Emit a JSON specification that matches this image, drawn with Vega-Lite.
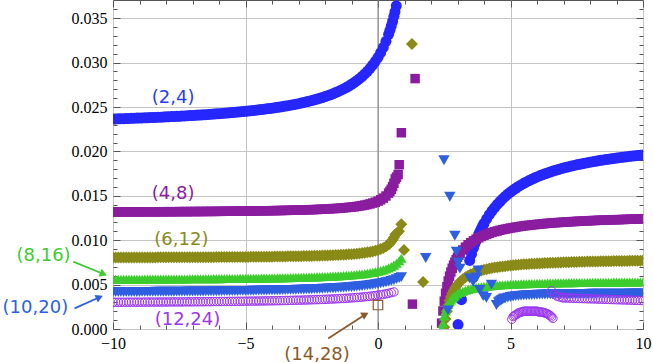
{
"$schema": "https://vega.github.io/schema/vega-lite/v6.json",
"width": 530, "height": 329,
"autosize": {"type": "none"},
"padding": {"left": 113, "top": 0, "right": 10, "bottom": 34},
"background": "white",
"config": {"view": {"stroke": "#555", "strokeWidth": 1}},
"resolve": {"axis": {"x": "independent", "y": "independent"}},
"datasets": {
"pts": [
{"s":"A","x":-10,"y":0.02365},{"s":"A","x":-9.9,"y":0.02366},{"s":"A","x":-9.8,"y":0.02367},{"s":"A","x":-9.7,"y":0.02368},{"s":"A","x":-9.6,"y":0.02369},{"s":"A","x":-9.5,"y":0.0237},{"s":"A","x":-9.4,"y":0.02371},{"s":"A","x":-9.3,"y":0.02372},{"s":"A","x":-9.2,"y":0.02374},{"s":"A","x":-9.1,"y":0.02375},{"s":"A","x":-9,"y":0.02376},{"s":"A","x":-8.9,"y":0.02377},{"s":"A","x":-8.8,"y":0.02378},{"s":"A","x":-8.7,"y":0.02379},{"s":"A","x":-8.6,"y":0.02381},{"s":"A","x":-8.5,"y":0.02382},{"s":"A","x":-8.4,"y":0.02383},{"s":"A","x":-8.3,"y":0.02385},{"s":"A","x":-8.2,"y":0.02386},{"s":"A","x":-8.1,"y":0.02387},{"s":"A","x":-8,"y":0.02389},{"s":"A","x":-7.9,"y":0.0239},{"s":"A","x":-7.8,"y":0.02392},{"s":"A","x":-7.7,"y":0.02393},{"s":"A","x":-7.6,"y":0.02395},{"s":"A","x":-7.5,"y":0.02396},{"s":"A","x":-7.4,"y":0.02398},{"s":"A","x":-7.3,"y":0.024},{"s":"A","x":-7.2,"y":0.02401},{"s":"A","x":-7.1,"y":0.02403},{"s":"A","x":-7,"y":0.02405},{"s":"A","x":-6.9,"y":0.02407},{"s":"A","x":-6.8,"y":0.02409},{"s":"A","x":-6.7,"y":0.0241},{"s":"A","x":-6.6,"y":0.02412},{"s":"A","x":-6.5,"y":0.02414},{"s":"A","x":-6.4,"y":0.02416},{"s":"A","x":-6.3,"y":0.02419},{"s":"A","x":-6.2,"y":0.02421},{"s":"A","x":-6.1,"y":0.02423},{"s":"A","x":-6,"y":0.02425},{"s":"A","x":-5.9,"y":0.02427},{"s":"A","x":-5.8,"y":0.0243},{"s":"A","x":-5.7,"y":0.02432},{"s":"A","x":-5.6,"y":0.02435},{"s":"A","x":-5.5,"y":0.02437},{"s":"A","x":-5.4,"y":0.0244},{"s":"A","x":-5.3,"y":0.02443},{"s":"A","x":-5.2,"y":0.02446},{"s":"A","x":-5.1,"y":0.02448},{"s":"A","x":-5,"y":0.02451},{"s":"A","x":-4.9,"y":0.02454},{"s":"A","x":-4.8,"y":0.02458},{"s":"A","x":-4.7,"y":0.02461},{"s":"A","x":-4.6,"y":0.02464},{"s":"A","x":-4.5,"y":0.02468},{"s":"A","x":-4.4,"y":0.02471},{"s":"A","x":-4.3,"y":0.02475},{"s":"A","x":-4.2,"y":0.02479},{"s":"A","x":-4.1,"y":0.02483},{"s":"A","x":-4,"y":0.02487},{"s":"A","x":-3.9,"y":0.02491},{"s":"A","x":-3.8,"y":0.02496},{"s":"A","x":-3.7,"y":0.025},{"s":"A","x":-3.6,"y":0.02505},{"s":"A","x":-3.5,"y":0.0251},{"s":"A","x":-3.4,"y":0.02515},{"s":"A","x":-3.3,"y":0.0252},{"s":"A","x":-3.2,"y":0.02526},{"s":"A","x":-3.1,"y":0.02532},{"s":"A","x":-3,"y":0.02538},{"s":"A","x":-2.9,"y":0.02544},{"s":"A","x":-2.8,"y":0.02551},{"s":"A","x":-2.7,"y":0.02558},{"s":"A","x":-2.6,"y":0.02565},{"s":"A","x":-2.5,"y":0.02573},{"s":"A","x":-2.4,"y":0.02581},{"s":"A","x":-2.3,"y":0.02589},{"s":"A","x":-2.2,"y":0.02598},{"s":"A","x":-2.1,"y":0.02607},{"s":"A","x":-2,"y":0.02617},{"s":"A","x":-1.9,"y":0.02627},{"s":"A","x":-1.8,"y":0.02638},{"s":"A","x":-1.7,"y":0.02649},{"s":"A","x":-1.6,"y":0.02662},{"s":"A","x":-1.5,"y":0.02675},{"s":"A","x":-1.4,"y":0.02689},{"s":"A","x":-1.3,"y":0.02704},{"s":"A","x":-1.2,"y":0.02719},{"s":"A","x":-1.1,"y":0.02736},{"s":"A","x":-1,"y":0.02755},{"s":"A","x":-0.9,"y":0.02775},{"s":"A","x":-0.8,"y":0.02796},{"s":"A","x":-0.7,"y":0.02819},{"s":"A","x":-0.6,"y":0.02844},{"s":"A","x":-0.5,"y":0.02872},{"s":"A","x":-0.4,"y":0.02902},{"s":"A","x":-0.3,"y":0.02936},{"s":"A","x":-0.2,"y":0.02973},{"s":"A","x":-0.1,"y":0.03014},{"s":"A","x":0,"y":0.0306},{"s":"A","x":0.1,"y":0.03112},{"s":"A","x":0.2,"y":0.03171},{"s":"A","x":0.3,"y":0.0324},{"s":"A","x":0.4,"y":0.03318},{"s":"A","x":0.45,"y":0.03363},{"s":"A","x":0.5,"y":0.03411},{"s":"A","x":0.55,"y":0.03464},{"s":"A","x":0.6,"y":0.03521},{"s":"A","x":0.64,"y":0.03571},{"s":"A","x":0.69,"y":0.0364},
{"s":"A","x":3.02,"y":0.0005},{"s":"A","x":3.15,"y":0.0033},{"s":"A","x":3.46,"y":0.00772},{"s":"A","x":3.53,"y":0.00844},{"s":"A","x":3.6,"y":0.0091},{"s":"A","x":3.65,"y":0.00953},{"s":"A","x":3.7,"y":0.00993},{"s":"A","x":3.75,"y":0.0103},{"s":"A","x":3.8,"y":0.01066},{"s":"A","x":3.85,"y":0.01099},{"s":"A","x":3.9,"y":0.0113},{"s":"A","x":3.95,"y":0.0116},{"s":"A","x":4,"y":0.01188},{"s":"A","x":4.1,"y":0.0124},{"s":"A","x":4.2,"y":0.01287},{"s":"A","x":4.3,"y":0.01329},{"s":"A","x":4.4,"y":0.01368},{"s":"A","x":4.5,"y":0.01403},{"s":"A","x":4.6,"y":0.01435},{"s":"A","x":4.7,"y":0.01465},{"s":"A","x":4.8,"y":0.01493},{"s":"A","x":4.9,"y":0.01519},{"s":"A","x":5,"y":0.01542},{"s":"A","x":5.1,"y":0.01565},{"s":"A","x":5.2,"y":0.01585},{"s":"A","x":5.3,"y":0.01605},{"s":"A","x":5.4,"y":0.01623},{"s":"A","x":5.5,"y":0.0164},{"s":"A","x":5.6,"y":0.01656},{"s":"A","x":5.7,"y":0.01672},{"s":"A","x":5.8,"y":0.01686},{"s":"A","x":5.9,"y":0.017},{"s":"A","x":6,"y":0.01713},{"s":"A","x":6.1,"y":0.01725},{"s":"A","x":6.2,"y":0.01737},{"s":"A","x":6.3,"y":0.01748},{"s":"A","x":6.4,"y":0.01758},{"s":"A","x":6.5,"y":0.01768},{"s":"A","x":6.6,"y":0.01778},{"s":"A","x":6.7,"y":0.01787},{"s":"A","x":6.8,"y":0.01796},{"s":"A","x":6.9,"y":0.01805},{"s":"A","x":7,"y":0.01813},{"s":"A","x":7.1,"y":0.01821},{"s":"A","x":7.2,"y":0.01828},{"s":"A","x":7.3,"y":0.01835},{"s":"A","x":7.4,"y":0.01842},{"s":"A","x":7.5,"y":0.01849},{"s":"A","x":7.6,"y":0.01855},{"s":"A","x":7.7,"y":0.01861},{"s":"A","x":7.8,"y":0.01867},{"s":"A","x":7.9,"y":0.01873},{"s":"A","x":8,"y":0.01879},{"s":"A","x":8.1,"y":0.01884},{"s":"A","x":8.2,"y":0.01889},{"s":"A","x":8.3,"y":0.01894},{"s":"A","x":8.4,"y":0.01899},{"s":"A","x":8.5,"y":0.01904},{"s":"A","x":8.6,"y":0.01908},{"s":"A","x":8.7,"y":0.01913},{"s":"A","x":8.8,"y":0.01917},{"s":"A","x":8.9,"y":0.01921},{"s":"A","x":9,"y":0.01925},{"s":"A","x":9.1,"y":0.01929},{"s":"A","x":9.2,"y":0.01933},{"s":"A","x":9.3,"y":0.01937},{"s":"A","x":9.4,"y":0.0194},{"s":"A","x":9.5,"y":0.01944},{"s":"A","x":9.6,"y":0.01947},{"s":"A","x":9.7,"y":0.01951},{"s":"A","x":9.8,"y":0.01954},{"s":"A","x":9.9,"y":0.01957},{"s":"A","x":10,"y":0.0196},

{"s":"B","x":-10,"y":0.01318},{"s":"B","x":-9.9,"y":0.01318},{"s":"B","x":-9.8,"y":0.01318},{"s":"B","x":-9.7,"y":0.01318},{"s":"B","x":-9.6,"y":0.01319},{"s":"B","x":-9.5,"y":0.01319},{"s":"B","x":-9.4,"y":0.01319},{"s":"B","x":-9.3,"y":0.01319},{"s":"B","x":-9.2,"y":0.01319},{"s":"B","x":-9.1,"y":0.01319},{"s":"B","x":-9,"y":0.01319},{"s":"B","x":-8.9,"y":0.01319},{"s":"B","x":-8.8,"y":0.0132},{"s":"B","x":-8.7,"y":0.0132},{"s":"B","x":-8.6,"y":0.0132},{"s":"B","x":-8.5,"y":0.0132},{"s":"B","x":-8.4,"y":0.0132},{"s":"B","x":-8.3,"y":0.0132},{"s":"B","x":-8.2,"y":0.0132},{"s":"B","x":-8.1,"y":0.01321},{"s":"B","x":-8,"y":0.01321},{"s":"B","x":-7.9,"y":0.01321},{"s":"B","x":-7.8,"y":0.01321},{"s":"B","x":-7.7,"y":0.01321},{"s":"B","x":-7.6,"y":0.01321},{"s":"B","x":-7.5,"y":0.01322},{"s":"B","x":-7.4,"y":0.01322},{"s":"B","x":-7.3,"y":0.01322},{"s":"B","x":-7.2,"y":0.01322},{"s":"B","x":-7.1,"y":0.01322},{"s":"B","x":-7,"y":0.01323},{"s":"B","x":-6.9,"y":0.01323},{"s":"B","x":-6.8,"y":0.01323},{"s":"B","x":-6.7,"y":0.01323},{"s":"B","x":-6.6,"y":0.01323},{"s":"B","x":-6.5,"y":0.01324},{"s":"B","x":-6.4,"y":0.01324},{"s":"B","x":-6.3,"y":0.01324},{"s":"B","x":-6.2,"y":0.01324},{"s":"B","x":-6.1,"y":0.01325},{"s":"B","x":-6,"y":0.01325},{"s":"B","x":-5.9,"y":0.01325},{"s":"B","x":-5.8,"y":0.01326},{"s":"B","x":-5.7,"y":0.01326},{"s":"B","x":-5.6,"y":0.01326},{"s":"B","x":-5.5,"y":0.01326},{"s":"B","x":-5.4,"y":0.01327},{"s":"B","x":-5.3,"y":0.01327},{"s":"B","x":-5.2,"y":0.01327},{"s":"B","x":-5.1,"y":0.01328},{"s":"B","x":-5,"y":0.01328},{"s":"B","x":-4.9,"y":0.01329},{"s":"B","x":-4.8,"y":0.01329},{"s":"B","x":-4.7,"y":0.01329},{"s":"B","x":-4.6,"y":0.0133},{"s":"B","x":-4.5,"y":0.0133},{"s":"B","x":-4.4,"y":0.01331},{"s":"B","x":-4.3,"y":0.01331},{"s":"B","x":-4.2,"y":0.01332},{"s":"B","x":-4.1,"y":0.01332},{"s":"B","x":-4,"y":0.01333},{"s":"B","x":-3.9,"y":0.01333},{"s":"B","x":-3.8,"y":0.01334},{"s":"B","x":-3.7,"y":0.01334},{"s":"B","x":-3.6,"y":0.01335},{"s":"B","x":-3.5,"y":0.01336},{"s":"B","x":-3.4,"y":0.01336},{"s":"B","x":-3.3,"y":0.01337},{"s":"B","x":-3.2,"y":0.01338},{"s":"B","x":-3.1,"y":0.01339},{"s":"B","x":-3,"y":0.01339},{"s":"B","x":-2.9,"y":0.0134},{"s":"B","x":-2.8,"y":0.01341},{"s":"B","x":-2.7,"y":0.01342},{"s":"B","x":-2.6,"y":0.01343},{"s":"B","x":-2.5,"y":0.01344},{"s":"B","x":-2.4,"y":0.01345},{"s":"B","x":-2.3,"y":0.01346},{"s":"B","x":-2.2,"y":0.01348},{"s":"B","x":-2.1,"y":0.01349},{"s":"B","x":-2,"y":0.01351},{"s":"B","x":-1.9,"y":0.01352},{"s":"B","x":-1.8,"y":0.01354},{"s":"B","x":-1.7,"y":0.01356},{"s":"B","x":-1.6,"y":0.01357},{"s":"B","x":-1.5,"y":0.01359},{"s":"B","x":-1.4,"y":0.01362},{"s":"B","x":-1.3,"y":0.01364},{"s":"B","x":-1.2,"y":0.01367},{"s":"B","x":-1.1,"y":0.0137},{"s":"B","x":-1,"y":0.01373},{"s":"B","x":-0.9,"y":0.01376},{"s":"B","x":-0.8,"y":0.0138},{"s":"B","x":-0.7,"y":0.01385},{"s":"B","x":-0.6,"y":0.0139},{"s":"B","x":-0.5,"y":0.01395},{"s":"B","x":-0.4,"y":0.01402},{"s":"B","x":-0.3,"y":0.01409},{"s":"B","x":-0.2,"y":0.01418},{"s":"B","x":-0.1,"y":0.01428},{"s":"B","x":0,"y":0.0144},{"s":"B","x":0.1,"y":0.01455},{"s":"B","x":0.2,"y":0.01474},{"s":"B","x":0.3,"y":0.01498},{"s":"B","x":0.4,"y":0.0153},{"s":"B","x":0.45,"y":0.0155},{"s":"B","x":0.5,"y":0.01574},{"s":"B","x":0.55,"y":0.01604},{"s":"B","x":0.6,"y":0.01641},{"s":"B","x":0.65,"y":0.01689},{"s":"B","x":0.7,"y":0.0171},{"s":"B","x":0.76,"y":0.0174},{"s":"B","x":0.8,"y":0.0185},{"s":"B","x":0.88,"y":0.0221},
{"s":"B","x":1.3,"y":0.0028},{"s":"B","x":1.4,"y":0.0282},
{"s":"B","x":2.4,"y":0.00066},{"s":"B","x":2.45,"y":0.00203},{"s":"B","x":2.5,"y":0.00313},{"s":"B","x":2.55,"y":0.00403},{"s":"B","x":2.6,"y":0.00478},{"s":"B","x":2.65,"y":0.00541},{"s":"B","x":2.7,"y":0.00595},{"s":"B","x":2.75,"y":0.00642},{"s":"B","x":2.8,"y":0.00684},{"s":"B","x":2.85,"y":0.0072},{"s":"B","x":2.9,"y":0.00752},{"s":"B","x":2.95,"y":0.00781},{"s":"B","x":3,"y":0.00807},{"s":"B","x":3.05,"y":0.0083},{"s":"B","x":3.1,"y":0.00852},{"s":"B","x":3.2,"y":0.0089},{"s":"B","x":3.3,"y":0.00922},{"s":"B","x":3.4,"y":0.00949},{"s":"B","x":3.5,"y":0.00972},{"s":"B","x":3.6,"y":0.00993},{"s":"B","x":3.7,"y":0.01011},{"s":"B","x":3.8,"y":0.01027},{"s":"B","x":3.9,"y":0.01042},{"s":"B","x":4,"y":0.01055},{"s":"B","x":4.1,"y":0.01066},{"s":"B","x":4.2,"y":0.01077},{"s":"B","x":4.3,"y":0.01087},{"s":"B","x":4.4,"y":0.01096},{"s":"B","x":4.5,"y":0.01104},{"s":"B","x":4.6,"y":0.01112},{"s":"B","x":4.7,"y":0.01119},{"s":"B","x":4.8,"y":0.01125},{"s":"B","x":4.9,"y":0.01131},{"s":"B","x":5,"y":0.01137},{"s":"B","x":5.1,"y":0.01142},{"s":"B","x":5.2,"y":0.01147},{"s":"B","x":5.3,"y":0.01152},{"s":"B","x":5.4,"y":0.01157},{"s":"B","x":5.5,"y":0.01161},{"s":"B","x":5.6,"y":0.01165},{"s":"B","x":5.7,"y":0.01168},{"s":"B","x":5.8,"y":0.01172},{"s":"B","x":5.9,"y":0.01175},{"s":"B","x":6,"y":0.01178},{"s":"B","x":6.1,"y":0.01181},{"s":"B","x":6.2,"y":0.01184},{"s":"B","x":6.3,"y":0.01187},{"s":"B","x":6.4,"y":0.0119},{"s":"B","x":6.5,"y":0.01192},{"s":"B","x":6.6,"y":0.01195},{"s":"B","x":6.7,"y":0.01197},{"s":"B","x":6.8,"y":0.01199},{"s":"B","x":6.9,"y":0.01201},{"s":"B","x":7,"y":0.01203},{"s":"B","x":7.1,"y":0.01205},{"s":"B","x":7.2,"y":0.01207},{"s":"B","x":7.3,"y":0.01209},{"s":"B","x":7.4,"y":0.0121},{"s":"B","x":7.5,"y":0.01212},{"s":"B","x":7.6,"y":0.01214},{"s":"B","x":7.7,"y":0.01215},{"s":"B","x":7.8,"y":0.01217},{"s":"B","x":7.9,"y":0.01218},{"s":"B","x":8,"y":0.0122},{"s":"B","x":8.1,"y":0.01221},{"s":"B","x":8.2,"y":0.01222},{"s":"B","x":8.3,"y":0.01224},{"s":"B","x":8.4,"y":0.01225},{"s":"B","x":8.5,"y":0.01226},{"s":"B","x":8.6,"y":0.01227},{"s":"B","x":8.7,"y":0.01228},{"s":"B","x":8.8,"y":0.01229},{"s":"B","x":8.9,"y":0.0123},{"s":"B","x":9,"y":0.01231},{"s":"B","x":9.1,"y":0.01232},{"s":"B","x":9.2,"y":0.01233},{"s":"B","x":9.3,"y":0.01234},{"s":"B","x":9.4,"y":0.01235},{"s":"B","x":9.5,"y":0.01236},{"s":"B","x":9.6,"y":0.01237},{"s":"B","x":9.7,"y":0.01238},{"s":"B","x":9.8,"y":0.01239},{"s":"B","x":9.9,"y":0.01239},{"s":"B","x":10,"y":0.0124},

{"s":"C","x":-10,"y":0.00805},{"s":"C","x":-9.9,"y":0.00805},{"s":"C","x":-9.8,"y":0.00805},{"s":"C","x":-9.7,"y":0.00805},{"s":"C","x":-9.6,"y":0.00805},{"s":"C","x":-9.5,"y":0.00805},{"s":"C","x":-9.4,"y":0.00805},{"s":"C","x":-9.3,"y":0.00806},{"s":"C","x":-9.2,"y":0.00806},{"s":"C","x":-9.1,"y":0.00806},{"s":"C","x":-9,"y":0.00806},{"s":"C","x":-8.9,"y":0.00806},{"s":"C","x":-8.8,"y":0.00806},{"s":"C","x":-8.7,"y":0.00806},{"s":"C","x":-8.6,"y":0.00806},{"s":"C","x":-8.5,"y":0.00806},{"s":"C","x":-8.4,"y":0.00806},{"s":"C","x":-8.3,"y":0.00807},{"s":"C","x":-8.2,"y":0.00807},{"s":"C","x":-8.1,"y":0.00807},{"s":"C","x":-8,"y":0.00807},{"s":"C","x":-7.9,"y":0.00807},{"s":"C","x":-7.8,"y":0.00807},{"s":"C","x":-7.7,"y":0.00807},{"s":"C","x":-7.6,"y":0.00807},{"s":"C","x":-7.5,"y":0.00808},{"s":"C","x":-7.4,"y":0.00808},{"s":"C","x":-7.3,"y":0.00808},{"s":"C","x":-7.2,"y":0.00808},{"s":"C","x":-7.1,"y":0.00808},{"s":"C","x":-7,"y":0.00808},{"s":"C","x":-6.9,"y":0.00808},{"s":"C","x":-6.8,"y":0.00808},{"s":"C","x":-6.7,"y":0.00809},{"s":"C","x":-6.6,"y":0.00809},{"s":"C","x":-6.5,"y":0.00809},{"s":"C","x":-6.4,"y":0.00809},{"s":"C","x":-6.3,"y":0.00809},{"s":"C","x":-6.2,"y":0.00809},{"s":"C","x":-6.1,"y":0.0081},{"s":"C","x":-6,"y":0.0081},{"s":"C","x":-5.9,"y":0.0081},{"s":"C","x":-5.8,"y":0.0081},{"s":"C","x":-5.7,"y":0.0081},{"s":"C","x":-5.6,"y":0.00811},{"s":"C","x":-5.5,"y":0.00811},{"s":"C","x":-5.4,"y":0.00811},{"s":"C","x":-5.3,"y":0.00811},{"s":"C","x":-5.2,"y":0.00812},{"s":"C","x":-5.1,"y":0.00812},{"s":"C","x":-5,"y":0.00812},{"s":"C","x":-4.9,"y":0.00812},{"s":"C","x":-4.8,"y":0.00813},{"s":"C","x":-4.7,"y":0.00813},{"s":"C","x":-4.6,"y":0.00813},{"s":"C","x":-4.5,"y":0.00814},{"s":"C","x":-4.4,"y":0.00814},{"s":"C","x":-4.3,"y":0.00814},{"s":"C","x":-4.2,"y":0.00815},{"s":"C","x":-4.1,"y":0.00815},{"s":"C","x":-4,"y":0.00815},{"s":"C","x":-3.9,"y":0.00816},{"s":"C","x":-3.8,"y":0.00816},{"s":"C","x":-3.7,"y":0.00816},{"s":"C","x":-3.6,"y":0.00817},{"s":"C","x":-3.5,"y":0.00817},{"s":"C","x":-3.4,"y":0.00818},{"s":"C","x":-3.3,"y":0.00818},{"s":"C","x":-3.2,"y":0.00819},{"s":"C","x":-3.1,"y":0.00819},{"s":"C","x":-3,"y":0.0082},{"s":"C","x":-2.9,"y":0.0082},{"s":"C","x":-2.8,"y":0.00821},{"s":"C","x":-2.7,"y":0.00822},{"s":"C","x":-2.6,"y":0.00823},{"s":"C","x":-2.5,"y":0.00823},{"s":"C","x":-2.4,"y":0.00824},{"s":"C","x":-2.3,"y":0.00825},{"s":"C","x":-2.2,"y":0.00826},{"s":"C","x":-2.1,"y":0.00827},{"s":"C","x":-2,"y":0.00828},{"s":"C","x":-1.9,"y":0.00829},{"s":"C","x":-1.8,"y":0.0083},{"s":"C","x":-1.7,"y":0.00831},{"s":"C","x":-1.6,"y":0.00832},{"s":"C","x":-1.5,"y":0.00834},{"s":"C","x":-1.4,"y":0.00835},{"s":"C","x":-1.3,"y":0.00837},{"s":"C","x":-1.2,"y":0.00839},{"s":"C","x":-1.1,"y":0.00841},{"s":"C","x":-1,"y":0.00843},{"s":"C","x":-0.9,"y":0.00846},{"s":"C","x":-0.8,"y":0.00848},{"s":"C","x":-0.7,"y":0.00851},{"s":"C","x":-0.6,"y":0.00855},{"s":"C","x":-0.5,"y":0.00859},{"s":"C","x":-0.4,"y":0.00863},{"s":"C","x":-0.3,"y":0.00868},{"s":"C","x":-0.2,"y":0.00874},{"s":"C","x":-0.1,"y":0.00882},{"s":"C","x":0,"y":0.0089},{"s":"C","x":0.1,"y":0.009},{"s":"C","x":0.2,"y":0.00913},{"s":"C","x":0.3,"y":0.0093},{"s":"C","x":0.4,"y":0.00952},{"s":"C","x":0.45,"y":0.00966},{"s":"C","x":0.5,"y":0.00984},{"s":"C","x":0.55,"y":0.01004},{"s":"C","x":0.6,"y":0.0103},{"s":"C","x":0.65,"y":0.01064},{"s":"C","x":0.72,"y":0.0108},{"s":"C","x":0.79,"y":0.011},{"s":"C","x":0.88,"y":0.0118},
{"s":"C","x":0.98,"y":0.0089},{"s":"C","x":1.28,"y":0.0321},{"s":"C","x":1.7,"y":0.0053},
{"s":"C","x":2.5,"y":0.0002},{"s":"C","x":2.55,"y":0.00114},{"s":"C","x":2.6,"y":0.002},{"s":"C","x":2.65,"y":0.00267},{"s":"C","x":2.7,"y":0.0032},{"s":"C","x":2.75,"y":0.00364},{"s":"C","x":2.8,"y":0.004},{"s":"C","x":2.85,"y":0.00431},{"s":"C","x":2.9,"y":0.00458},{"s":"C","x":2.95,"y":0.0048},{"s":"C","x":3,"y":0.005},{"s":"C","x":3.1,"y":0.00534},{"s":"C","x":3.2,"y":0.00561},{"s":"C","x":3.3,"y":0.00582},{"s":"C","x":3.4,"y":0.00601},{"s":"C","x":3.5,"y":0.00616},{"s":"C","x":3.6,"y":0.00629},{"s":"C","x":3.7,"y":0.00641},{"s":"C","x":3.8,"y":0.00651},{"s":"C","x":3.9,"y":0.00659},{"s":"C","x":4,"y":0.00667},{"s":"C","x":4.1,"y":0.00674},{"s":"C","x":4.2,"y":0.00681},{"s":"C","x":4.3,"y":0.00686},{"s":"C","x":4.4,"y":0.00692},{"s":"C","x":4.5,"y":0.00696},{"s":"C","x":4.6,"y":0.00701},{"s":"C","x":4.7,"y":0.00705},{"s":"C","x":4.8,"y":0.00708},{"s":"C","x":4.9,"y":0.00712},{"s":"C","x":5,"y":0.00715},{"s":"C","x":5.1,"y":0.00718},{"s":"C","x":5.2,"y":0.00721},{"s":"C","x":5.3,"y":0.00723},{"s":"C","x":5.4,"y":0.00726},{"s":"C","x":5.5,"y":0.00728},{"s":"C","x":5.6,"y":0.0073},{"s":"C","x":5.7,"y":0.00732},{"s":"C","x":5.8,"y":0.00734},{"s":"C","x":5.9,"y":0.00736},{"s":"C","x":6,"y":0.00738},{"s":"C","x":6.1,"y":0.00739},{"s":"C","x":6.2,"y":0.00741},{"s":"C","x":6.3,"y":0.00742},{"s":"C","x":6.4,"y":0.00744},{"s":"C","x":6.5,"y":0.00745},{"s":"C","x":6.6,"y":0.00746},{"s":"C","x":6.7,"y":0.00747},{"s":"C","x":6.8,"y":0.00749},{"s":"C","x":6.9,"y":0.0075},{"s":"C","x":7,"y":0.00751},{"s":"C","x":7.1,"y":0.00752},{"s":"C","x":7.2,"y":0.00753},{"s":"C","x":7.3,"y":0.00754},{"s":"C","x":7.4,"y":0.00755},{"s":"C","x":7.5,"y":0.00755},{"s":"C","x":7.6,"y":0.00756},{"s":"C","x":7.7,"y":0.00757},{"s":"C","x":7.8,"y":0.00758},{"s":"C","x":7.9,"y":0.00759},{"s":"C","x":8,"y":0.00759},{"s":"C","x":8.1,"y":0.0076},{"s":"C","x":8.2,"y":0.00761},{"s":"C","x":8.3,"y":0.00761},{"s":"C","x":8.4,"y":0.00762},{"s":"C","x":8.5,"y":0.00763},{"s":"C","x":8.6,"y":0.00763},{"s":"C","x":8.7,"y":0.00764},{"s":"C","x":8.8,"y":0.00764},{"s":"C","x":8.9,"y":0.00765},{"s":"C","x":9,"y":0.00765},{"s":"C","x":9.1,"y":0.00766},{"s":"C","x":9.2,"y":0.00766},{"s":"C","x":9.3,"y":0.00767},{"s":"C","x":9.4,"y":0.00767},{"s":"C","x":9.5,"y":0.00768},{"s":"C","x":9.6,"y":0.00768},{"s":"C","x":9.7,"y":0.00769},{"s":"C","x":9.8,"y":0.00769},{"s":"C","x":9.9,"y":0.00769},{"s":"C","x":10,"y":0.0077},

{"s":"D","x":-10,"y":0.0056},{"s":"D","x":-9.9,"y":0.0056},{"s":"D","x":-9.8,"y":0.0056},{"s":"D","x":-9.7,"y":0.0056},{"s":"D","x":-9.6,"y":0.00561},{"s":"D","x":-9.5,"y":0.00561},{"s":"D","x":-9.4,"y":0.00561},{"s":"D","x":-9.3,"y":0.00561},{"s":"D","x":-9.2,"y":0.00561},{"s":"D","x":-9.1,"y":0.00561},{"s":"D","x":-9,"y":0.00561},{"s":"D","x":-8.9,"y":0.00561},{"s":"D","x":-8.8,"y":0.00562},{"s":"D","x":-8.7,"y":0.00562},{"s":"D","x":-8.6,"y":0.00562},{"s":"D","x":-8.5,"y":0.00562},{"s":"D","x":-8.4,"y":0.00562},{"s":"D","x":-8.3,"y":0.00562},{"s":"D","x":-8.2,"y":0.00563},{"s":"D","x":-8.1,"y":0.00563},{"s":"D","x":-8,"y":0.00563},{"s":"D","x":-7.9,"y":0.00563},{"s":"D","x":-7.8,"y":0.00563},{"s":"D","x":-7.7,"y":0.00563},{"s":"D","x":-7.6,"y":0.00564},{"s":"D","x":-7.5,"y":0.00564},{"s":"D","x":-7.4,"y":0.00564},{"s":"D","x":-7.3,"y":0.00564},{"s":"D","x":-7.2,"y":0.00564},{"s":"D","x":-7.1,"y":0.00565},{"s":"D","x":-7,"y":0.00565},{"s":"D","x":-6.9,"y":0.00565},{"s":"D","x":-6.8,"y":0.00565},{"s":"D","x":-6.7,"y":0.00565},{"s":"D","x":-6.6,"y":0.00566},{"s":"D","x":-6.5,"y":0.00566},{"s":"D","x":-6.4,"y":0.00566},{"s":"D","x":-6.3,"y":0.00566},{"s":"D","x":-6.2,"y":0.00567},{"s":"D","x":-6.1,"y":0.00567},{"s":"D","x":-6,"y":0.00567},{"s":"D","x":-5.9,"y":0.00567},{"s":"D","x":-5.8,"y":0.00568},{"s":"D","x":-5.7,"y":0.00568},{"s":"D","x":-5.6,"y":0.00568},{"s":"D","x":-5.5,"y":0.00569},{"s":"D","x":-5.4,"y":0.00569},{"s":"D","x":-5.3,"y":0.00569},{"s":"D","x":-5.2,"y":0.0057},{"s":"D","x":-5.1,"y":0.0057},{"s":"D","x":-5,"y":0.0057},{"s":"D","x":-4.9,"y":0.00571},{"s":"D","x":-4.8,"y":0.00571},{"s":"D","x":-4.7,"y":0.00572},{"s":"D","x":-4.6,"y":0.00572},{"s":"D","x":-4.5,"y":0.00572},{"s":"D","x":-4.4,"y":0.00573},{"s":"D","x":-4.3,"y":0.00573},{"s":"D","x":-4.2,"y":0.00574},{"s":"D","x":-4.1,"y":0.00574},{"s":"D","x":-4,"y":0.00575},{"s":"D","x":-3.9,"y":0.00575},{"s":"D","x":-3.8,"y":0.00576},{"s":"D","x":-3.7,"y":0.00576},{"s":"D","x":-3.6,"y":0.00577},{"s":"D","x":-3.5,"y":0.00578},{"s":"D","x":-3.4,"y":0.00578},{"s":"D","x":-3.3,"y":0.00579},{"s":"D","x":-3.2,"y":0.0058},{"s":"D","x":-3.1,"y":0.0058},{"s":"D","x":-3,"y":0.00581},{"s":"D","x":-2.9,"y":0.00582},{"s":"D","x":-2.8,"y":0.00583},{"s":"D","x":-2.7,"y":0.00583},{"s":"D","x":-2.6,"y":0.00584},{"s":"D","x":-2.5,"y":0.00585},{"s":"D","x":-2.4,"y":0.00586},{"s":"D","x":-2.3,"y":0.00587},{"s":"D","x":-2.2,"y":0.00588},{"s":"D","x":-2.1,"y":0.0059},{"s":"D","x":-2,"y":0.00591},{"s":"D","x":-1.9,"y":0.00592},{"s":"D","x":-1.8,"y":0.00594},{"s":"D","x":-1.7,"y":0.00595},{"s":"D","x":-1.6,"y":0.00597},{"s":"D","x":-1.5,"y":0.00598},{"s":"D","x":-1.4,"y":0.006},{"s":"D","x":-1.3,"y":0.00602},{"s":"D","x":-1.2,"y":0.00604},{"s":"D","x":-1.1,"y":0.00606},{"s":"D","x":-1,"y":0.00609},{"s":"D","x":-0.9,"y":0.00611},{"s":"D","x":-0.8,"y":0.00614},{"s":"D","x":-0.7,"y":0.00617},{"s":"D","x":-0.6,"y":0.0062},{"s":"D","x":-0.5,"y":0.00624},{"s":"D","x":-0.4,"y":0.00628},{"s":"D","x":-0.3,"y":0.00633},{"s":"D","x":-0.2,"y":0.00638},{"s":"D","x":-0.1,"y":0.00644},{"s":"D","x":0,"y":0.0065},{"s":"D","x":0.1,"y":0.00657},{"s":"D","x":0.2,"y":0.00666},{"s":"D","x":0.3,"y":0.00676},{"s":"D","x":0.4,"y":0.00688},{"s":"D","x":0.5,"y":0.00702},{"s":"D","x":0.6,"y":0.00719},{"s":"D","x":0.7,"y":0.00741},{"s":"D","x":0.8,"y":0.00768},{"s":"D","x":0.88,"y":0.00797},
{"s":"D","x":2.42,"y":0.0001},{"s":"D","x":2.45,"y":0.00066},{"s":"D","x":2.5,"y":0.00146},{"s":"D","x":2.55,"y":0.00203},{"s":"D","x":2.6,"y":0.00246},{"s":"D","x":2.65,"y":0.00279},{"s":"D","x":2.7,"y":0.00306},{"s":"D","x":2.75,"y":0.00327},{"s":"D","x":2.8,"y":0.00346},{"s":"D","x":2.85,"y":0.00361},{"s":"D","x":2.9,"y":0.00374},{"s":"D","x":3,"y":0.00396},{"s":"D","x":3.1,"y":0.00412},{"s":"D","x":3.2,"y":0.00426},{"s":"D","x":3.3,"y":0.00436},{"s":"D","x":3.4,"y":0.00446},{"s":"D","x":3.5,"y":0.00453},{"s":"D","x":3.6,"y":0.0046},{"s":"D","x":3.7,"y":0.00466},{"s":"D","x":3.8,"y":0.00471},{"s":"D","x":3.9,"y":0.00475},{"s":"D","x":4,"y":0.00479},{"s":"D","x":4.1,"y":0.00482},{"s":"D","x":4.2,"y":0.00486},{"s":"D","x":4.3,"y":0.00488},{"s":"D","x":4.4,"y":0.00491},{"s":"D","x":4.5,"y":0.00493},{"s":"D","x":4.6,"y":0.00496},{"s":"D","x":4.7,"y":0.00498},{"s":"D","x":4.8,"y":0.00499},{"s":"D","x":4.9,"y":0.00501},{"s":"D","x":5,"y":0.00503},{"s":"D","x":5.1,"y":0.00504},{"s":"D","x":5.2,"y":0.00506},{"s":"D","x":5.3,"y":0.00507},{"s":"D","x":5.4,"y":0.00508},{"s":"D","x":5.5,"y":0.00509},{"s":"D","x":5.6,"y":0.0051},{"s":"D","x":5.7,"y":0.00511},{"s":"D","x":5.8,"y":0.00512},{"s":"D","x":5.9,"y":0.00513},{"s":"D","x":6,"y":0.00514},{"s":"D","x":6.1,"y":0.00515},{"s":"D","x":6.2,"y":0.00516},{"s":"D","x":6.3,"y":0.00516},{"s":"D","x":6.4,"y":0.00517},{"s":"D","x":6.5,"y":0.00518},{"s":"D","x":6.6,"y":0.00518},{"s":"D","x":6.7,"y":0.00519},{"s":"D","x":6.8,"y":0.00519},{"s":"D","x":6.9,"y":0.0052},{"s":"D","x":7,"y":0.00521},{"s":"D","x":7.1,"y":0.00521},{"s":"D","x":7.2,"y":0.00522},{"s":"D","x":7.3,"y":0.00522},{"s":"D","x":7.4,"y":0.00522},{"s":"D","x":7.5,"y":0.00523},{"s":"D","x":7.6,"y":0.00523},{"s":"D","x":7.7,"y":0.00524},{"s":"D","x":7.8,"y":0.00524},{"s":"D","x":7.9,"y":0.00524},{"s":"D","x":8,"y":0.00525},{"s":"D","x":8.1,"y":0.00525},{"s":"D","x":8.2,"y":0.00526},{"s":"D","x":8.3,"y":0.00526},{"s":"D","x":8.4,"y":0.00526},{"s":"D","x":8.5,"y":0.00526},{"s":"D","x":8.6,"y":0.00527},{"s":"D","x":8.7,"y":0.00527},{"s":"D","x":8.8,"y":0.00527},{"s":"D","x":8.9,"y":0.00528},{"s":"D","x":9,"y":0.00528},{"s":"D","x":9.1,"y":0.00528},{"s":"D","x":9.2,"y":0.00528},{"s":"D","x":9.3,"y":0.00529},{"s":"D","x":9.4,"y":0.00529},{"s":"D","x":9.5,"y":0.00529},{"s":"D","x":9.6,"y":0.00529},{"s":"D","x":9.7,"y":0.0053},{"s":"D","x":9.8,"y":0.0053},{"s":"D","x":9.9,"y":0.0053},{"s":"D","x":10,"y":0.0053},

{"s":"E","x":-10,"y":0.00416},{"s":"E","x":-9.9,"y":0.00416},{"s":"E","x":-9.8,"y":0.00416},{"s":"E","x":-9.7,"y":0.00416},{"s":"E","x":-9.6,"y":0.00416},{"s":"E","x":-9.5,"y":0.00416},{"s":"E","x":-9.4,"y":0.00417},{"s":"E","x":-9.3,"y":0.00417},{"s":"E","x":-9.2,"y":0.00417},{"s":"E","x":-9.1,"y":0.00417},{"s":"E","x":-9,"y":0.00417},{"s":"E","x":-8.9,"y":0.00418},{"s":"E","x":-8.8,"y":0.00418},{"s":"E","x":-8.7,"y":0.00418},{"s":"E","x":-8.6,"y":0.00418},{"s":"E","x":-8.5,"y":0.00418},{"s":"E","x":-8.4,"y":0.00419},{"s":"E","x":-8.3,"y":0.00419},{"s":"E","x":-8.2,"y":0.00419},{"s":"E","x":-8.1,"y":0.00419},{"s":"E","x":-8,"y":0.0042},{"s":"E","x":-7.9,"y":0.0042},{"s":"E","x":-7.8,"y":0.0042},{"s":"E","x":-7.7,"y":0.0042},{"s":"E","x":-7.6,"y":0.00421},{"s":"E","x":-7.5,"y":0.00421},{"s":"E","x":-7.4,"y":0.00421},{"s":"E","x":-7.3,"y":0.00421},{"s":"E","x":-7.2,"y":0.00422},{"s":"E","x":-7.1,"y":0.00422},{"s":"E","x":-7,"y":0.00422},{"s":"E","x":-6.9,"y":0.00422},{"s":"E","x":-6.8,"y":0.00423},{"s":"E","x":-6.7,"y":0.00423},{"s":"E","x":-6.6,"y":0.00423},{"s":"E","x":-6.5,"y":0.00424},{"s":"E","x":-6.4,"y":0.00424},{"s":"E","x":-6.3,"y":0.00424},{"s":"E","x":-6.2,"y":0.00425},{"s":"E","x":-6.1,"y":0.00425},{"s":"E","x":-6,"y":0.00425},{"s":"E","x":-5.9,"y":0.00426},{"s":"E","x":-5.8,"y":0.00426},{"s":"E","x":-5.7,"y":0.00427},{"s":"E","x":-5.6,"y":0.00427},{"s":"E","x":-5.5,"y":0.00427},{"s":"E","x":-5.4,"y":0.00428},{"s":"E","x":-5.3,"y":0.00428},{"s":"E","x":-5.2,"y":0.00429},{"s":"E","x":-5.1,"y":0.00429},{"s":"E","x":-5,"y":0.0043},{"s":"E","x":-4.9,"y":0.0043},{"s":"E","x":-4.8,"y":0.00431},{"s":"E","x":-4.7,"y":0.00431},{"s":"E","x":-4.6,"y":0.00432},{"s":"E","x":-4.5,"y":0.00432},{"s":"E","x":-4.4,"y":0.00433},{"s":"E","x":-4.3,"y":0.00433},{"s":"E","x":-4.2,"y":0.00434},{"s":"E","x":-4.1,"y":0.00435},{"s":"E","x":-4,"y":0.00435},{"s":"E","x":-3.9,"y":0.00436},{"s":"E","x":-3.8,"y":0.00437},{"s":"E","x":-3.7,"y":0.00437},{"s":"E","x":-3.6,"y":0.00438},{"s":"E","x":-3.5,"y":0.00439},{"s":"E","x":-3.4,"y":0.0044},{"s":"E","x":-3.3,"y":0.0044},{"s":"E","x":-3.2,"y":0.00441},{"s":"E","x":-3.1,"y":0.00442},{"s":"E","x":-3,"y":0.00443},{"s":"E","x":-2.9,"y":0.00444},{"s":"E","x":-2.8,"y":0.00445},{"s":"E","x":-2.7,"y":0.00446},{"s":"E","x":-2.6,"y":0.00447},{"s":"E","x":-2.5,"y":0.00448},{"s":"E","x":-2.4,"y":0.00449},{"s":"E","x":-2.3,"y":0.00451},{"s":"E","x":-2.2,"y":0.00452},{"s":"E","x":-2.1,"y":0.00453},{"s":"E","x":-2,"y":0.00455},{"s":"E","x":-1.9,"y":0.00456},{"s":"E","x":-1.8,"y":0.00458},{"s":"E","x":-1.7,"y":0.00459},{"s":"E","x":-1.6,"y":0.00461},{"s":"E","x":-1.5,"y":0.00463},{"s":"E","x":-1.4,"y":0.00464},{"s":"E","x":-1.3,"y":0.00466},{"s":"E","x":-1.2,"y":0.00469},{"s":"E","x":-1.1,"y":0.00471},{"s":"E","x":-1,"y":0.00473},{"s":"E","x":-0.9,"y":0.00476},{"s":"E","x":-0.8,"y":0.00478},{"s":"E","x":-0.7,"y":0.00481},{"s":"E","x":-0.6,"y":0.00484},{"s":"E","x":-0.5,"y":0.00488},{"s":"E","x":-0.4,"y":0.00491},{"s":"E","x":-0.3,"y":0.00495},{"s":"E","x":-0.2,"y":0.00499},{"s":"E","x":-0.1,"y":0.00504},{"s":"E","x":0,"y":0.00509},{"s":"E","x":0.1,"y":0.00514},{"s":"E","x":0.2,"y":0.0052},{"s":"E","x":0.3,"y":0.00527},{"s":"E","x":0.4,"y":0.00534},{"s":"E","x":0.5,"y":0.00542},{"s":"E","x":0.6,"y":0.00551},{"s":"E","x":0.7,"y":0.00562},{"s":"E","x":0.8,"y":0.00574},{"s":"E","x":0.88,"y":0.00584},
{"s":"E","x":1.8,"y":0.008},{"s":"E","x":2.49,"y":0.019},{"s":"E","x":2.71,"y":0.0149},{"s":"E","x":2.9,"y":0.0105},{"s":"E","x":2.96,"y":0.0087},{"s":"E","x":3.02,"y":0.0075},{"s":"E","x":3.09,"y":0.0068},{"s":"E","x":2.64,"y":0.0021},{"s":"E","x":3.46,"y":0.0057},{"s":"E","x":3.59,"y":0.0053},{"s":"E","x":3.72,"y":0.0058},{"s":"E","x":3.78,"y":0.0066},{"s":"E","x":3.84,"y":0.0044},{"s":"E","x":3.97,"y":0.0037},{"s":"E","x":4.09,"y":0.0035},{"s":"E","x":4.28,"y":0.005},{"s":"E","x":4.47,"y":0.0027},
{"s":"E","x":4.55,"y":0.00301},{"s":"E","x":4.6,"y":0.00314},{"s":"E","x":4.65,"y":0.00324},{"s":"E","x":4.7,"y":0.00333},{"s":"E","x":4.75,"y":0.0034},{"s":"E","x":4.8,"y":0.00345},{"s":"E","x":4.9,"y":0.00354},{"s":"E","x":5,"y":0.0036},{"s":"E","x":5.1,"y":0.00366},{"s":"E","x":5.2,"y":0.0037},{"s":"E","x":5.3,"y":0.00373},{"s":"E","x":5.4,"y":0.00376},{"s":"E","x":5.5,"y":0.00378},{"s":"E","x":5.6,"y":0.0038},{"s":"E","x":5.7,"y":0.00382},{"s":"E","x":5.8,"y":0.00383},{"s":"E","x":5.9,"y":0.00385},{"s":"E","x":6,"y":0.00386},{"s":"E","x":6.1,"y":0.00387},{"s":"E","x":6.2,"y":0.00388},{"s":"E","x":6.3,"y":0.00389},{"s":"E","x":6.4,"y":0.0039},{"s":"E","x":6.5,"y":0.0039},{"s":"E","x":6.6,"y":0.00391},{"s":"E","x":6.7,"y":0.00392},{"s":"E","x":6.8,"y":0.00392},{"s":"E","x":6.9,"y":0.00393},{"s":"E","x":7,"y":0.00393},{"s":"E","x":7.1,"y":0.00394},{"s":"E","x":7.2,"y":0.00394},{"s":"E","x":7.3,"y":0.00395},{"s":"E","x":7.4,"y":0.00395},{"s":"E","x":7.5,"y":0.00395},{"s":"E","x":7.6,"y":0.00396},{"s":"E","x":7.7,"y":0.00396},{"s":"E","x":7.8,"y":0.00396},{"s":"E","x":7.9,"y":0.00396},{"s":"E","x":8,"y":0.00397},{"s":"E","x":8.1,"y":0.00397},{"s":"E","x":8.2,"y":0.00397},{"s":"E","x":8.3,"y":0.00398},{"s":"E","x":8.4,"y":0.00398},{"s":"E","x":8.5,"y":0.00398},{"s":"E","x":8.6,"y":0.00398},{"s":"E","x":8.7,"y":0.00398},{"s":"E","x":8.8,"y":0.00398},{"s":"E","x":8.9,"y":0.00399},{"s":"E","x":9,"y":0.00399},{"s":"E","x":9.1,"y":0.00399},{"s":"E","x":9.2,"y":0.00399},{"s":"E","x":9.3,"y":0.00399},{"s":"E","x":9.4,"y":0.00399},{"s":"E","x":9.5,"y":0.004},{"s":"E","x":9.6,"y":0.004},{"s":"E","x":9.7,"y":0.004},{"s":"E","x":9.8,"y":0.004},{"s":"E","x":9.9,"y":0.004},{"s":"E","x":10,"y":0.004},

{"s":"F","x":-10,"y":0.00301},{"s":"F","x":-9.9,"y":0.00301},{"s":"F","x":-9.8,"y":0.00301},{"s":"F","x":-9.7,"y":0.00301},{"s":"F","x":-9.6,"y":0.00301},{"s":"F","x":-9.5,"y":0.00301},{"s":"F","x":-9.4,"y":0.00302},{"s":"F","x":-9.3,"y":0.00302},{"s":"F","x":-9.2,"y":0.00302},{"s":"F","x":-9.1,"y":0.00302},{"s":"F","x":-9,"y":0.00302},{"s":"F","x":-8.9,"y":0.00302},{"s":"F","x":-8.8,"y":0.00303},{"s":"F","x":-8.7,"y":0.00303},{"s":"F","x":-8.6,"y":0.00303},{"s":"F","x":-8.5,"y":0.00303},{"s":"F","x":-8.4,"y":0.00303},{"s":"F","x":-8.3,"y":0.00303},{"s":"F","x":-8.2,"y":0.00304},{"s":"F","x":-8.1,"y":0.00304},{"s":"F","x":-8,"y":0.00304},{"s":"F","x":-7.9,"y":0.00304},{"s":"F","x":-7.8,"y":0.00305},{"s":"F","x":-7.7,"y":0.00305},{"s":"F","x":-7.6,"y":0.00305},{"s":"F","x":-7.5,"y":0.00305},{"s":"F","x":-7.4,"y":0.00305},{"s":"F","x":-7.3,"y":0.00306},{"s":"F","x":-7.2,"y":0.00306},{"s":"F","x":-7.1,"y":0.00306},{"s":"F","x":-7,"y":0.00306},{"s":"F","x":-6.9,"y":0.00307},{"s":"F","x":-6.8,"y":0.00307},{"s":"F","x":-6.7,"y":0.00307},{"s":"F","x":-6.6,"y":0.00307},{"s":"F","x":-6.5,"y":0.00308},{"s":"F","x":-6.4,"y":0.00308},{"s":"F","x":-6.3,"y":0.00308},{"s":"F","x":-6.2,"y":0.00309},{"s":"F","x":-6.1,"y":0.00309},{"s":"F","x":-6,"y":0.00309},{"s":"F","x":-5.9,"y":0.0031},{"s":"F","x":-5.8,"y":0.0031},{"s":"F","x":-5.7,"y":0.0031},{"s":"F","x":-5.6,"y":0.00311},{"s":"F","x":-5.5,"y":0.00311},{"s":"F","x":-5.4,"y":0.00311},{"s":"F","x":-5.3,"y":0.00312},{"s":"F","x":-5.2,"y":0.00312},{"s":"F","x":-5.1,"y":0.00312},{"s":"F","x":-5,"y":0.00313},{"s":"F","x":-4.9,"y":0.00313},{"s":"F","x":-4.8,"y":0.00314},{"s":"F","x":-4.7,"y":0.00314},{"s":"F","x":-4.6,"y":0.00315},{"s":"F","x":-4.5,"y":0.00315},{"s":"F","x":-4.4,"y":0.00316},{"s":"F","x":-4.3,"y":0.00316},{"s":"F","x":-4.2,"y":0.00317},{"s":"F","x":-4.1,"y":0.00317},{"s":"F","x":-4,"y":0.00318},{"s":"F","x":-3.9,"y":0.00318},{"s":"F","x":-3.8,"y":0.00319},{"s":"F","x":-3.7,"y":0.00319},{"s":"F","x":-3.6,"y":0.0032},{"s":"F","x":-3.5,"y":0.00321},{"s":"F","x":-3.4,"y":0.00321},{"s":"F","x":-3.3,"y":0.00322},{"s":"F","x":-3.2,"y":0.00323},{"s":"F","x":-3.1,"y":0.00324},{"s":"F","x":-3,"y":0.00324},{"s":"F","x":-2.9,"y":0.00325},{"s":"F","x":-2.8,"y":0.00326},{"s":"F","x":-2.7,"y":0.00327},{"s":"F","x":-2.6,"y":0.00328},{"s":"F","x":-2.5,"y":0.00329},{"s":"F","x":-2.4,"y":0.0033},{"s":"F","x":-2.3,"y":0.00331},{"s":"F","x":-2.2,"y":0.00332},{"s":"F","x":-2.1,"y":0.00333},{"s":"F","x":-2,"y":0.00334},{"s":"F","x":-1.9,"y":0.00335},{"s":"F","x":-1.8,"y":0.00337},{"s":"F","x":-1.7,"y":0.00338},{"s":"F","x":-1.6,"y":0.0034},{"s":"F","x":-1.5,"y":0.00341},{"s":"F","x":-1.4,"y":0.00343},{"s":"F","x":-1.3,"y":0.00344},{"s":"F","x":-1.2,"y":0.00346},{"s":"F","x":-1.1,"y":0.00348},{"s":"F","x":-1,"y":0.0035},{"s":"F","x":-0.9,"y":0.00352},{"s":"F","x":-0.8,"y":0.00355},{"s":"F","x":-0.7,"y":0.00357},{"s":"F","x":-0.6,"y":0.0036},{"s":"F","x":-0.5,"y":0.00363},{"s":"F","x":-0.4,"y":0.00366},{"s":"F","x":-0.3,"y":0.00369},{"s":"F","x":-0.2,"y":0.00373},{"s":"F","x":-0.1,"y":0.00376},{"s":"F","x":0,"y":0.00381},{"s":"F","x":0.1,"y":0.00385},{"s":"F","x":0.2,"y":0.00391},{"s":"F","x":0.3,"y":0.00396},{"s":"F","x":0.4,"y":0.00402},{"s":"F","x":0.5,"y":0.0041},{"s":"F","x":0.6,"y":0.00417},
{"s":"F","x":5.05,"y":0.0011},{"s":"F","x":5.1,"y":0.0014},{"s":"F","x":5.15,"y":0.0015},{"s":"F","x":5.2,"y":0.0016},{"s":"F","x":5.25,"y":0.0017},{"s":"F","x":5.3,"y":0.0018},{"s":"F","x":5.35,"y":0.00185},{"s":"F","x":5.4,"y":0.0019},{"s":"F","x":5.45,"y":0.00195},{"s":"F","x":5.5,"y":0.002},{"s":"F","x":5.55,"y":0.002},{"s":"F","x":5.6,"y":0.002},{"s":"F","x":5.65,"y":0.002},{"s":"F","x":5.7,"y":0.002},{"s":"F","x":5.75,"y":0.002},{"s":"F","x":5.8,"y":0.002},{"s":"F","x":5.85,"y":0.002},{"s":"F","x":5.9,"y":0.002},{"s":"F","x":5.95,"y":0.002},{"s":"F","x":6,"y":0.002},{"s":"F","x":6.05,"y":0.00195},{"s":"F","x":6.1,"y":0.0019},{"s":"F","x":6.15,"y":0.0019},{"s":"F","x":6.2,"y":0.0019},{"s":"F","x":6.25,"y":0.00185},{"s":"F","x":6.3,"y":0.0018},{"s":"F","x":6.35,"y":0.00175},{"s":"F","x":6.4,"y":0.0017},{"s":"F","x":6.45,"y":0.0016},{"s":"F","x":6.5,"y":0.0015},{"s":"F","x":6.55,"y":0.00135},{"s":"F","x":6.6,"y":0.0012},
{"s":"F","x":6.55,"y":0.0043},{"s":"F","x":6.65,"y":0.0039},{"s":"F","x":6.75,"y":0.0037},{"s":"F","x":6.85,"y":0.0036},{"s":"F","x":6.95,"y":0.00355},{"s":"F","x":7,"y":0.0035},{"s":"F","x":7.1,"y":0.00349},{"s":"F","x":7.2,"y":0.00348},{"s":"F","x":7.3,"y":0.00347},{"s":"F","x":7.4,"y":0.00346},{"s":"F","x":7.5,"y":0.00345},{"s":"F","x":7.6,"y":0.00344},{"s":"F","x":7.7,"y":0.00343},{"s":"F","x":7.8,"y":0.00342},{"s":"F","x":7.9,"y":0.00341},{"s":"F","x":8,"y":0.0034},{"s":"F","x":8.1,"y":0.00339},{"s":"F","x":8.2,"y":0.00338},{"s":"F","x":8.3,"y":0.00337},{"s":"F","x":8.4,"y":0.00336},{"s":"F","x":8.5,"y":0.00335},{"s":"F","x":8.6,"y":0.00334},{"s":"F","x":8.7,"y":0.00333},{"s":"F","x":8.8,"y":0.00332},{"s":"F","x":8.9,"y":0.00331},{"s":"F","x":9,"y":0.0033},{"s":"F","x":9.1,"y":0.00329},{"s":"F","x":9.2,"y":0.00328},{"s":"F","x":9.3,"y":0.00327},{"s":"F","x":9.4,"y":0.00326},{"s":"F","x":9.5,"y":0.00325},{"s":"F","x":9.6,"y":0.00324},{"s":"F","x":9.7,"y":0.00323},{"s":"F","x":9.8,"y":0.00322},{"s":"F","x":9.9,"y":0.00321},{"s":"F","x":10,"y":0.0032},

{"s":"G","x":0,"y":0.0027}
],
"labels": [
{"t":"(2,4)","x":-7.73,"y":0.02607},{"t":"(4,8)","x":-7.73,"y":0.01515},{"t":"(6,12)","x":-7.42,"y":0.01002},{"t":"(8,16)","x":-12.62,"y":0.00822},{"t":"(10,20)","x":-12.93,"y":0.00242},{"t":"(12,24)","x":-7.19,"y":0.00096},{"t":"(14,28)","x":-2.3,"y":-0.00293}
],
"arrows": [
{"t":"(8,16)","x":-11.5,"y":0.00758,"x2":-10.36,"y2":0.00619},{"t":"(10,20)","x":-11.45,"y":0.00233,"x2":-10.51,"y2":0.00357},{"t":"(14,28)","x":-1.88,"y":-0.00106,"x2":-0.48,"y2":0.00164}
],
"zero": [{"x":0}]
},
"layer": [
{"data":{"name":"zero"},"mark":{"type":"rule","color":"#7a7a7a","strokeWidth":1},
 "encoding":{"x":{"field":"x","type":"quantitative","scale":{"domain":[-10,10],"nice":false,"zero":false},"axis":null}}},
{"data":{"name":"pts"},"transform":[{"filter":"datum.s==='A'"}],
 "mark":{"type":"point","shape":"circle","filled":true,"color":"#2626ff","opacity":1,"size":121,"clip":true},
 "encoding":{
  "x":{"field":"x","type":"quantitative","scale":{"domain":[-10,10],"nice":false,"zero":false},
   "axis":{"orient":"bottom","values":[-10,-5,0,5,10],"title":null,"grid":true,"gridColor":"#c4c4c4","gridWidth":1,"ticks":true,"tickSize":-7,"tickColor":"#555","tickWidth":1,"labelPadding":13,"labelFont":"Liberation Serif, Times New Roman, DejaVu Serif, serif","labelFontSize":16,"labelColor":"#000","labelFlush":false,"labelOverlap":false,"domain":false}},
  "y":{"field":"y","type":"quantitative","scale":{"domain":[0,0.03705],"nice":false,"zero":false},
   "axis":{"orient":"left","values":[0,0.005,0.01,0.015,0.02,0.025,0.03,0.035],"format":".3f","title":null,"grid":true,"gridColor":"#c4c4c4","gridWidth":1,"ticks":true,"tickSize":-7,"tickColor":"#555","tickWidth":1,"labelPadding":13,"labelFont":"Liberation Serif, Times New Roman, DejaVu Serif, serif","labelFontSize":16,"labelColor":"#000","labelOverlap":false,"domain":false}}}},
{"data":{"name":"pts"},"transform":[{"filter":"datum.s==='B'"}],
 "mark":{"type":"point","shape":"square","filled":true,"color":"#8a1d9f","opacity":1,"size":90,"clip":true},
 "encoding":{
  "x":{"field":"x","type":"quantitative","scale":{"domain":[-10,10],"nice":false,"zero":false},
   "axis":{"orient":"bottom","values":[-9,-8,-7,-6,-4,-3,-2,-1,1,2,3,4,6,7,8,9],"title":null,"grid":false,"labels":false,"tickSize":-4,"tickColor":"#555","tickWidth":1,"domain":false}},
  "y":{"field":"y","type":"quantitative","scale":{"domain":[0,0.03705],"nice":false,"zero":false},
   "axis":{"orient":"left","values":[0.001,0.002,0.003,0.004,0.006,0.007,0.008,0.009,0.011,0.012,0.013,0.014,0.016,0.017,0.018,0.019,0.021,0.022,0.023,0.024,0.026,0.027,0.028,0.029,0.031,0.032,0.033,0.034,0.036],"title":null,"grid":false,"labels":false,"tickSize":-4,"tickColor":"#555","tickWidth":1,"domain":false}}}},
{"data":{"name":"pts"},"transform":[{"filter":"datum.s==='C'"}],
 "mark":{"type":"point","shape":"diamond","filled":true,"color":"#8a8a18","opacity":1,"size":144,"clip":true},
 "encoding":{
  "x":{"field":"x","type":"quantitative","scale":{"domain":[-10,10],"nice":false,"zero":false},
   "axis":{"orient":"top","values":[-10,-5,0,5,10],"title":null,"grid":false,"labels":false,"tickSize":-7,"tickColor":"#555","tickWidth":1,"domain":false}},
  "y":{"field":"y","type":"quantitative","scale":{"domain":[0,0.03705],"nice":false,"zero":false},
   "axis":{"orient":"right","values":[0,0.005,0.01,0.015,0.02,0.025,0.03,0.035],"title":null,"grid":false,"labels":false,"tickSize":-7,"tickColor":"#555","tickWidth":1,"domain":false}}}},
{"data":{"name":"pts"},"transform":[{"filter":"datum.s==='D'"}],
 "mark":{"type":"point","shape":"triangle-up","filled":true,"color":"#3dcc2d","opacity":1,"size":110,"clip":true},
 "encoding":{
  "x":{"field":"x","type":"quantitative","scale":{"domain":[-10,10],"nice":false,"zero":false},
   "axis":{"orient":"top","values":[-9,-8,-7,-6,-4,-3,-2,-1,1,2,3,4,6,7,8,9],"title":null,"grid":false,"labels":false,"tickSize":-4,"tickColor":"#555","tickWidth":1,"domain":false}},
  "y":{"field":"y","type":"quantitative","scale":{"domain":[0,0.03705],"nice":false,"zero":false},
   "axis":{"orient":"right","values":[0.001,0.002,0.003,0.004,0.006,0.007,0.008,0.009,0.011,0.012,0.013,0.014,0.016,0.017,0.018,0.019,0.021,0.022,0.023,0.024,0.026,0.027,0.028,0.029,0.031,0.032,0.033,0.034,0.036],"title":null,"grid":false,"labels":false,"tickSize":-4,"tickColor":"#555","tickWidth":1,"domain":false}}}},
{"data":{"name":"pts"},"transform":[{"filter":"datum.s==='E'"}],
 "mark":{"type":"point","shape":"triangle-down","filled":true,"color":"#2e5fe0","opacity":1,"size":130,"clip":true},
 "encoding":{
  "x":{"field":"x","type":"quantitative","scale":{"domain":[-10,10],"nice":false,"zero":false},"axis":null},
  "y":{"field":"y","type":"quantitative","scale":{"domain":[0,0.03705],"nice":false,"zero":false},"axis":null}}},
{"data":{"name":"pts"},"transform":[{"filter":"datum.s==='F'"}],
 "mark":{"type":"point","shape":"circle","filled":false,"color":"#9b35f0","opacity":1,"size":72,"strokeWidth":1,"clip":true},
 "encoding":{
  "x":{"field":"x","type":"quantitative","scale":{"domain":[-10,10],"nice":false,"zero":false},"axis":null},
  "y":{"field":"y","type":"quantitative","scale":{"domain":[0,0.03705],"nice":false,"zero":false},"axis":null}}},
{"data":{"name":"pts"},"transform":[{"filter":"datum.s==='G'"}],
 "mark":{"type":"point","shape":"square","filled":false,"color":"#8c5a28","opacity":1,"size":90,"strokeWidth":1.2,"clip":true},
 "encoding":{
  "x":{"field":"x","type":"quantitative","scale":{"domain":[-10,10],"nice":false,"zero":false},"axis":null},
  "y":{"field":"y","type":"quantitative","scale":{"domain":[0,0.03705],"nice":false,"zero":false},"axis":null}}},
{"data":{"name":"arrows"},"mark":{"type":"rule","strokeWidth":1.8},
 "encoding":{
  "x":{"field":"x","type":"quantitative","scale":{"domain":[-10,10],"nice":false,"zero":false},"axis":null},
  "y":{"field":"y","type":"quantitative","scale":{"domain":[0,0.03705],"nice":false,"zero":false},"axis":null},
  "x2":{"field":"x2"},"y2":{"field":"y2"},
  "color":{"field":"t","type":"nominal","legend":null,"scale":{"domain":["(2,4)","(4,8)","(6,12)","(8,16)","(10,20)","(12,24)","(14,28)"],"range":["#2a3cf5","#8a1d9f","#8a8a18","#3dcc2d","#2e5fe0","#9b35f0","#8c5a28"]}}}},
{"data":{"name":"arrows"},"transform":[{"filter":"datum.t==='(8,16)'"}],
 "mark":{"type":"point","shape":"triangle-right","filled":true,"opacity":1,"size":70,"angle":22.6,"color":"#3dcc2d"},
 "encoding":{
  "x":{"field":"x2","type":"quantitative","scale":{"domain":[-10,10],"nice":false,"zero":false},"axis":null},
  "y":{"field":"y2","type":"quantitative","scale":{"domain":[0,0.03705],"nice":false,"zero":false},"axis":null}}},
{"data":{"name":"arrows"},"transform":[{"filter":"datum.t==='(10,20)'"}],
 "mark":{"type":"point","shape":"triangle-right","filled":true,"opacity":1,"size":70,"angle":336,"color":"#2e5fe0"},
 "encoding":{
  "x":{"field":"x2","type":"quantitative","scale":{"domain":[-10,10],"nice":false,"zero":false},"axis":null},
  "y":{"field":"y2","type":"quantitative","scale":{"domain":[0,0.03705],"nice":false,"zero":false},"axis":null}}},
{"data":{"name":"arrows"},"transform":[{"filter":"datum.t==='(14,28)'"}],
 "mark":{"type":"point","shape":"triangle-right","filled":true,"opacity":1,"size":70,"angle":331.5,"color":"#8c5a28"},
 "encoding":{
  "x":{"field":"x2","type":"quantitative","scale":{"domain":[-10,10],"nice":false,"zero":false},"axis":null},
  "y":{"field":"y2","type":"quantitative","scale":{"domain":[0,0.03705],"nice":false,"zero":false},"axis":null}}},
{"data":{"name":"labels"},"mark":{"type":"text","font":"DejaVu Sans","fontSize":18,"align":"center","baseline":"middle"},
 "encoding":{
  "x":{"field":"x","type":"quantitative","scale":{"domain":[-10,10],"nice":false,"zero":false},"axis":null},
  "y":{"field":"y","type":"quantitative","scale":{"domain":[0,0.03705],"nice":false,"zero":false},"axis":null},
  "text":{"field":"t"},
  "color":{"field":"t","type":"nominal","legend":null,"scale":{"domain":["(2,4)","(4,8)","(6,12)","(8,16)","(10,20)","(12,24)","(14,28)"],"range":["#2a3cf5","#8a1d9f","#8a8a18","#3dcc2d","#2e5fe0","#9b35f0","#8c5a28"]}}}}
]
}
